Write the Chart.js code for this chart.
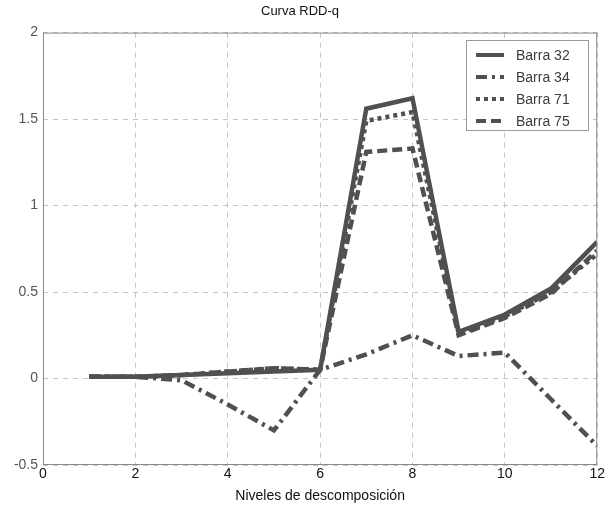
<!DOCTYPE html>
<html>
<head>
<meta charset="utf-8">
<script src="https://cdn.jsdelivr.net/npm/chart.js@4/dist/chart.umd.min.js"></script>
<style>
  html, body { margin: 0; padding: 0; background: #fff; }
  #wrap { width: 606px; height: 511px; }
</style>
</head>
<body>
<div id="wrap"><canvas id="myChart" width="606" height="511"></canvas></div>
<script>
// niveles de descomposicion
const niveles = [1, 2, 3, 4, 5, 6, 7, 8, 9, 10, 11, 12];

const barra32 = [0.01, 0.01, 0.02, 0.03, 0.04, 0.05, 1.56, 1.62, 0.27, 0.37, 0.52, 0.79];
const barra34 = [0.01, 0.01, -0.01, -0.15, -0.30, 0.05, 0.14, 0.25, 0.13, 0.15, -0.12, -0.39];
const barra71 = [0.01, 0.01, 0.02, 0.04, 0.06, 0.05, 1.49, 1.54, 0.26, 0.36, 0.50, 0.72];
const barra75 = [0.01, 0.01, 0.02, 0.04, 0.06, 0.05, 1.31, 1.33, 0.25, 0.35, 0.49, 0.74];

const xTicks = [0, 2, 4, 6, 8, 10, 12];
const yTicks = [-0.5, 0, 0.5, 1, 1.5, 2];

const lineColor = '#505050';
const fontFam = '"Liberation Sans", Arial, sans-serif';

function pts(arr) {
  return arr.map((v, i) => ({ x: niveles[i], y: v }));
}

function serie(label, arr, dash) {
  return {
    label: label,
    data: pts(arr),
    borderColor: lineColor,
    backgroundColor: lineColor,
    borderWidth: 4.5,
    borderDash: dash,
    pointRadius: 0,
    tension: 0,
    fill: false
  };
}

// marco + leyenda dentro del area
const marcoLeyenda = {
  id: 'marcoLeyenda',
  afterDatasetsDraw(chart) {
    const ctx = chart.ctx;
    const a = chart.chartArea;
    ctx.save();
    ctx.strokeStyle = '#8a8a8a';
    ctx.lineWidth = 1;
    ctx.setLineDash([]);
    ctx.strokeRect(a.left + 0.5, a.top + 0.5, a.right - a.left - 1, a.bottom - a.top - 1);

    // legend box
    const bx = 466, by = 40, bw = 122, bh = 90;
    ctx.fillStyle = '#fff';
    ctx.fillRect(bx, by, bw, bh);
    ctx.strokeStyle = '#9a9a9a';
    ctx.strokeRect(bx + 0.5, by + 0.5, bw, bh);
    ctx.font = '14px ' + fontFam;
    ctx.textBaseline = 'middle';
    chart.data.datasets.forEach((ds, i) => {
      const y = by + 15 + i * 22;
      ctx.strokeStyle = lineColor;
      ctx.lineWidth = 4;
      ctx.setLineDash(ds.borderDash || []);
      ctx.beginPath();
      ctx.moveTo(bx + 10, y);
      ctx.lineTo(bx + 38, y);
      ctx.stroke();
      ctx.fillStyle = '#3c3c3c';
      ctx.fillText(ds.label, bx + 50, y + 1);
    });
    ctx.restore();
  }
};

new Chart(document.getElementById('myChart'), {
  type: 'line',
  data: {
    datasets: [
      serie('Barra 32', barra32, []),
      serie('Barra 34', barra34, [11, 5, 3, 5]),
      serie('Barra 71', barra71, [4, 4]),
      serie('Barra 75', barra75, [10, 5])
    ]
  },
  options: {
    responsive: false,
    animation: false,
    layout: { padding: { left: 0, right: 6, top: 0, bottom: 0 } },
    plugins: {
      legend: { display: false },
      tooltip: { enabled: false },
      title: {
        display: true,
        text: 'Curva RDD-q',
        color: '#111',
        font: { family: fontFam, size: 13, weight: 'normal' },
        padding: { top: 4, bottom: 13 }
      }
    },
    scales: {
      x: {
        type: 'linear',
        min: 0,
        max: 12,
        afterBuildTicks: s => { s.ticks = xTicks.map(v => ({ value: v })); },
        afterFit: s => { s.height = 46; },
        ticks: { color: '#111', font: { family: fontFam, size: 14 }, padding: 1, maxRotation: 0 },
        grid: { color: '#c4c4c4', lineWidth: 1, drawTicks: false },
        border: { display: false, dash: [5, 5] },
        title: {
          display: true,
          text: 'Niveles de descomposición',
          color: '#111',
          font: { family: fontFam, size: 14 },
          padding: { top: 0, bottom: 6 }
        }
      },
      y: {
        type: 'linear',
        min: -0.5,
        max: 2,
        afterBuildTicks: s => { s.ticks = yTicks.map(v => ({ value: v })); },
        afterFit: s => { s.width = 43; },
        ticks: {
          color: '#555',
          font: { family: fontFam, size: 14 },
          padding: 5,
          callback: v => String(v)
        },
        grid: { color: '#c4c4c4', lineWidth: 1, drawTicks: false },
        border: { display: false, dash: [5, 5] }
      }
    }
  },
  plugins: [marcoLeyenda]
});
</script>
</body>
</html>
